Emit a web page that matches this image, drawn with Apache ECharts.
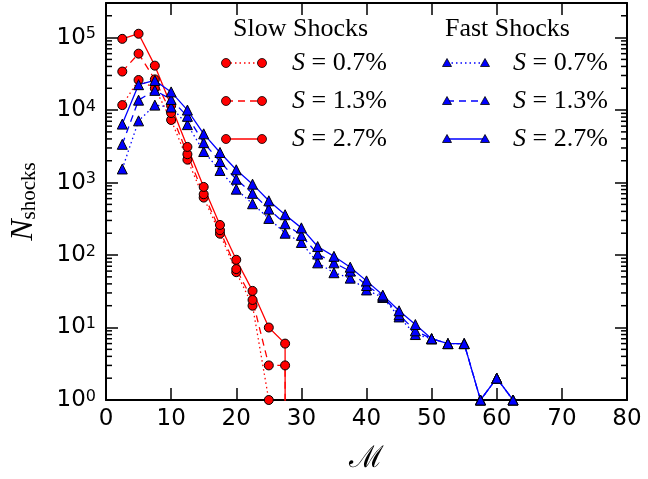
<!DOCTYPE html>
<html>
<head>
<meta charset="utf-8">
<script src="https://cdn.jsdelivr.net/npm/echarts@6/dist/echarts.min.js"></script>
<style>
  html, body { margin: 0; padding: 0; background: #ffffff; }
  #chart { width: 648px; height: 479px; }
</style>
</head>
<body>
<div id="chart"></div>
<script>
// Mach-number bins (bin centres)
const machNumbers = [2.5, 5, 7.5, 10, 12.5, 15, 17.5, 20, 22.5, 25, 27.5, 30, 32.5, 35,
  37.5, 40, 42.5, 45, 47.5, 50, 52.5, 55, 57.5, 60, 62.5, 65];

// Shock counts per bin, slow shocks
const slowS07 = [11700, 26000, 20000, 7300, 2070, 620, 197, 58, 20, 1, 0, 0];
const slowS13 = [34000, 60000, 26500, 9100, 2460, 690, 220, 64, 24, 3, 3, 0];
const slowS27 = [96000, 113000, 41000, 11500, 3100, 870, 260, 86, 32, 10, 6, 0];

// Shock counts per bin, fast shocks
const fastS07 = [1540, 7100, 11700, 11000, 6300, 2680, 1470, 810, 510, 320, 200, 149, 78, 57,
  48, 33, 26, 14, 8, 7, 6, 6, 1, 2, 1, 0];
const fastS13 = [3370, 13700, 18700, 14000, 8200, 3550, 1950, 1110, 710, 430, 270, 187, 103, 78,
  60, 38, 27, 15, 9, 7, 6, 6, 1, 2, 1, 0];
const fastS27 = [6400, 22400, 25600, 17800, 10000, 4700, 2600, 1500, 950, 560, 360, 237, 131, 96,
  68, 44, 28, 17, 11, 7, 6, 6, 1, 2, 1, 0];

// Axis ticks
const xMajorTicks = [0, 10, 20, 30, 40, 50, 60, 70, 80];
const yMajorTicks = [1, 10, 100, 1000, 10000, 100000];
const yMinorTicks = [];
for (const decade of [1, 10, 100, 1000, 10000, 100000]) {
  for (let k = 2; k <= 9; k++) {
    if (k * decade <= 300000) yMinorTicks.push(k * decade);
  }
}

const X_MIN = 0, X_MAX = 80, Y_MIN = 1, Y_MAX = 300000;
// empty bins are clipped to a tiny positive count, so the curve drops straight off the log axis
const CLIP_FLOOR = 1e-300;

const RED = '#ff0000';
const BLUE = '#0000ff';

function toPoints(values) {
  return values.map((v, i) => [machNumbers[i], v > 0 ? v : CLIP_FLOOR]);
}

function curve(name, values, color, dash, symbol, size) {
  return {
    name: name,
    type: 'line',
    data: toPoints(values),
    clip: true,
    symbol: symbol,
    symbolSize: size,
    showAllSymbol: true,
    itemStyle: { color: color, borderColor: '#000000', borderWidth: 1 },
    lineStyle: { color: color, width: 1.3, type: dash },
    emphasis: { disabled: true },
    animation: false,
    z: 3
  };
}

const SERIF = '"Liberation Serif", "DejaVu Serif", serif';
const SANS = '"DejaVu Sans", sans-serif';

// Minor log ticks on left and right frame edges
const minorTickSeries = {
  type: 'custom',
  data: yMinorTicks.map(v => [X_MIN, v]),
  clip: false,
  silent: true,
  animation: false,
  z: 4,
  renderItem: function (params, api) {
    const v = api.value(1);
    const left = api.coord([X_MIN, v]);
    const right = api.coord([X_MAX, v]);
    const st = { stroke: '#000000', lineWidth: 1.5 };
    return {
      type: 'group',
      children: [
        { type: 'line', shape: { x1: left[0], y1: left[1], x2: left[0] + 6, y2: left[1] }, style: st },
        { type: 'line', shape: { x1: right[0], y1: right[1], x2: right[0] - 6, y2: right[1] }, style: st }
      ]
    };
  }
};

// Legend drawn as two columns of sample lines with end markers
const legendRows = [
  { label: '0.7%', dash: [1.5, 3] },
  { label: '1.3%', dash: [7, 5] },
  { label: '2.7%', dash: 'solid' }
];
const legendGraphics = [];
function legendColumn(title, titleX, m1, m2, textX, color, isTriangle) {
  legendGraphics.push({
    type: 'text', x: titleX, y: 29,
    style: { text: title, font: '26px ' + SERIF, fill: '#000', verticalAlign: 'middle', align: 'left' }
  });
  legendRows.forEach((row, i) => {
    const y = 63 + i * 38;
    legendGraphics.push({
      type: 'line', shape: { x1: m1, y1: y, x2: m2, y2: y },
      style: { stroke: color, lineWidth: 1.3, lineDash: row.dash === 'solid' ? null : row.dash }
    });
    [m1, m2].forEach(cx => {
      if (isTriangle) {
        legendGraphics.push({
          type: 'polygon',
          shape: { points: [[cx, y - 4.5], [cx - 4.5, y + 3.5], [cx + 4.5, y + 3.5]] },
          style: { fill: color, stroke: '#000', lineWidth: 0.8 }
        });
      } else {
        legendGraphics.push({
          type: 'circle', shape: { cx: cx, cy: y, r: 4.5 },
          style: { fill: color, stroke: '#000', lineWidth: 0.8 }
        });
      }
    });
    legendGraphics.push({
      type: 'text', x: textX, y: y,
      style: {
        text: '{i|S}{r| = ' + row.label + '}',
        verticalAlign: 'middle', align: 'left', fill: '#000',
        rich: {
          i: { fontFamily: SERIF, fontSize: 26, fontStyle: 'italic', fill: '#000' },
          r: { fontFamily: SERIF, fontSize: 26, fill: '#000' }
        }
      }
    });
  });
}
legendColumn('Slow Shocks', 233, 226, 262, 292, RED, false);
legendColumn('Fast Shocks', 445, 447, 485, 513, BLUE, true);

const chart = echarts.init(document.getElementById('chart'), null, { renderer: 'canvas' });

const axisLineStyle = { color: '#000000', width: 2 };

chart.setOption({
  backgroundColor: '#ffffff',
  animation: false,
  grid: { left: 102, right: 21, top: 3, bottom: 72, show: false },
  xAxis: [
    {
      type: 'value', min: X_MIN, max: X_MAX, interval: 10,
      position: 'bottom',
      axisLine: { show: true, lineStyle: axisLineStyle, onZero: false },
      axisTick: { show: true, inside: true, length: 12, lineStyle: { color: '#000', width: 1.5 } },
      axisLabel: { show: true, margin: 8, color: '#000', fontFamily: SANS, fontSize: 23,
        customValues: xMajorTicks },
      splitLine: { show: false },
      name: '\u2133', nameLocation: 'middle', nameGap: 44,
      nameTextStyle: { fontFamily: '"DejaVu Serif", serif', fontSize: 30, color: '#000' }
    },
    {
      type: 'value', min: X_MIN, max: X_MAX, interval: 10,
      position: 'top',
      axisLine: { show: true, lineStyle: axisLineStyle, onZero: false },
      axisTick: { show: true, inside: true, length: 12, lineStyle: { color: '#000', width: 1.5 } },
      axisLabel: { show: false },
      splitLine: { show: false }
    }
  ],
  yAxis: [
    {
      type: 'log', logBase: 10, min: Y_MIN, max: Y_MAX,
      position: 'left',
      axisLine: { show: true, lineStyle: axisLineStyle, onZero: false },
      axisTick: { show: true, inside: true, length: 12, lineStyle: { color: '#000', width: 1.5 } },
      axisLabel: {
        show: true, margin: 10, showMaxLabel: false, color: '#000',
        formatter: function (v) {
          if (yMajorTicks.indexOf(v) < 0) return '';
          return '{b|10}{s|' + Math.round(Math.log10(v)) + '}';
        },
        rich: {
          b: { fontFamily: SANS, fontSize: 23, color: '#000' },
          s: { fontFamily: SANS, fontSize: 16, color: '#000', verticalAlign: 'top' }
        }
      },
      splitLine: { show: false },
      name: '{n|N}{s|shocks}',
      nameLocation: 'middle', nameGap: 66, nameRotate: 90,
      nameTextStyle: {
        color: '#000',
        rich: {
          n: { fontFamily: SERIF, fontSize: 32, fontStyle: 'italic', color: '#000' },
          s: { fontFamily: SERIF, fontSize: 21, color: '#000', verticalAlign: 'bottom' }
        }
      }
    },
    {
      type: 'log', logBase: 10, min: Y_MIN, max: Y_MAX,
      position: 'right',
      axisLine: { show: true, lineStyle: axisLineStyle, onZero: false },
      axisTick: { show: true, inside: true, length: 12, lineStyle: { color: '#000', width: 1.5 } },
      axisLabel: { show: false },
      splitLine: { show: false }
    }
  ],
  series: [
    curve('Slow S=0.7%', slowS07, RED, [1.5, 3], 'circle', 9),
    curve('Slow S=1.3%', slowS13, RED, [7, 5], 'circle', 9),
    curve('Slow S=2.7%', slowS27, RED, 'solid', 'circle', 9),
    curve('Fast S=0.7%', fastS07, BLUE, [1.5, 3], 'triangle', 10),
    curve('Fast S=1.3%', fastS13, BLUE, [7, 5], 'triangle', 10),
    curve('Fast S=2.7%', fastS27, BLUE, 'solid', 'triangle', 10),
    minorTickSeries
  ],
  graphic: legendGraphics
});
</script>
</body>
</html>
